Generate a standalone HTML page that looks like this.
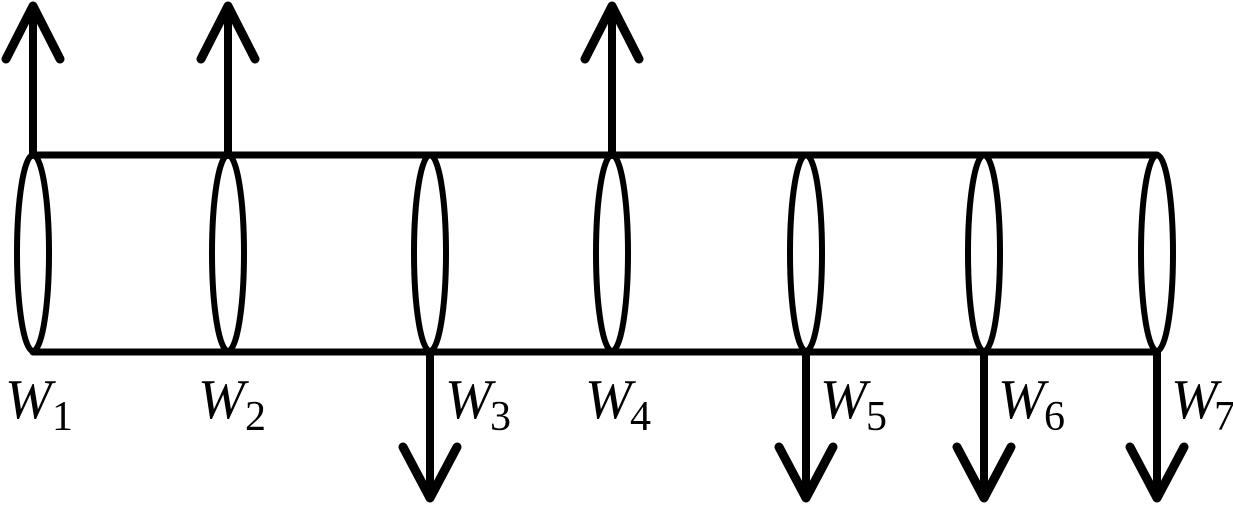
<!DOCTYPE html>
<html><head><meta charset="utf-8"><style>
html,body{margin:0;padding:0;background:#fff;}
body{position:relative;width:1233px;height:507px;overflow:hidden;}
svg{display:block;position:absolute;left:0;top:0;}
.l{position:absolute;font-family:"Liberation Serif","DejaVu Serif",serif;color:#000;line-height:1;white-space:nowrap;}
.w{font-style:italic;font-size:56px;}
.s{font-size:42px;}
</style></head><body>
<svg width="1233" height="507" viewBox="0 0 1233 507" xmlns="http://www.w3.org/2000/svg">
<g stroke="#000" fill="none" stroke-linecap="round" stroke-linejoin="round">
<line x1="33" y1="155" x2="1157" y2="155" stroke-width="7"/>
<line x1="33" y1="352" x2="1157" y2="352" stroke-width="7"/>
<g stroke-width="6">
<ellipse cx="33" cy="253" rx="16" ry="98"/>
<ellipse cx="228" cy="253" rx="16" ry="98"/>
<ellipse cx="430" cy="253" rx="16" ry="98"/>
<ellipse cx="612" cy="253" rx="16" ry="98"/>
<ellipse cx="806" cy="253" rx="16" ry="98"/>
<ellipse cx="984" cy="253" rx="16" ry="98"/>
<ellipse cx="1157" cy="253" rx="16" ry="98"/>
</g>
<g stroke-width="8">
<line x1="33" y1="155" x2="33" y2="6"/>
<polyline points="6,59 33,6 60,59" stroke-width="9"/>
<line x1="228" y1="155" x2="228" y2="6"/>
<polyline points="201,59 228,6 255,59" stroke-width="9"/>
<line x1="612" y1="155" x2="612" y2="6"/>
<polyline points="585,59 612,6 639,59" stroke-width="9"/>
<line x1="430" y1="352" x2="430" y2="498"/>
<polyline points="403,447 430,498 457,447" stroke-width="9"/>
<line x1="806" y1="352" x2="806" y2="498"/>
<polyline points="779,447 806,498 833,447" stroke-width="9"/>
<line x1="984" y1="352" x2="984" y2="498"/>
<polyline points="957,447 984,498 1011,447" stroke-width="9"/>
<line x1="1157" y1="352" x2="1157" y2="498"/>
<polyline points="1130,447 1157,498 1184,447" stroke-width="9"/>
</g>
</g>
</svg>
<div class="l w" style="left:5px;top:372px">W</div><div class="l s" style="left:52px;top:396px">1</div>
<div class="l w" style="left:198px;top:372px">W</div><div class="l s" style="left:245px;top:396px">2</div>
<div class="l w" style="left:445px;top:372px">W</div><div class="l s" style="left:490px;top:396px">3</div>
<div class="l w" style="left:585px;top:372px">W</div><div class="l s" style="left:630px;top:396px">4</div>
<div class="l w" style="left:820px;top:372px">W</div><div class="l s" style="left:866px;top:396px">5</div>
<div class="l w" style="left:998px;top:372px">W</div><div class="l s" style="left:1044px;top:396px">6</div>
<div class="l w" style="left:1171px;top:372px">W</div><div class="l s" style="left:1214px;top:396px">7</div>
</body></html>
